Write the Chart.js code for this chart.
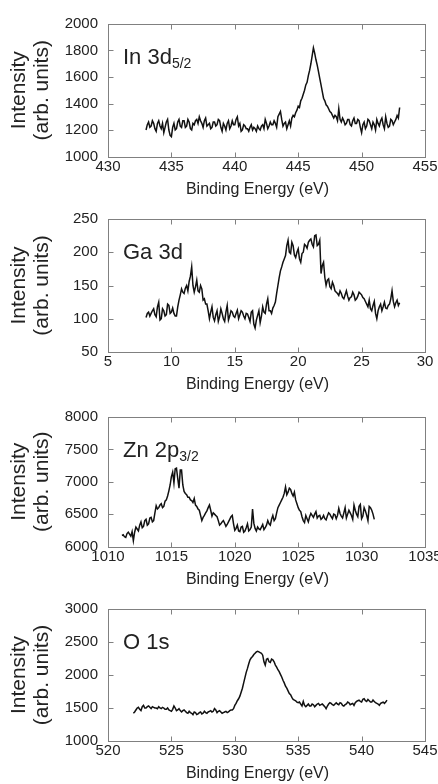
<!DOCTYPE html>
<html>
<head>
<meta charset="utf-8">
<script src="https://cdn.jsdelivr.net/npm/chart.js@4.4.0/dist/chart.umd.min.js"></script>
<style>
  html, body { margin: 0; padding: 0; background: #fff; overflow: hidden; width: 438px; height: 784px; }
  .panel { position: absolute; left: 0; width: 438px; height: 200px; }
</style>
</head>
<body>
<div class="panel" id="p0"><canvas id="c0" width="438" height="200"></canvas></div>
<div class="panel" id="p1"><canvas id="c1" width="438" height="200"></canvas></div>
<div class="panel" id="p2"><canvas id="c2" width="438" height="200"></canvas></div>
<div class="panel" id="p3"><canvas id="c3" width="438" height="200"></canvas></div>
<script>
// energy grid: first point of each scan, 0.1 eV steps
var stepEV = 0.1;
var inStart = 433.0;
var gaStart = 8.0;
var znStart = 1011.1;
var oStart = 522.0;

// In 3d5/2 intensity, one row per eV
var inCounts = [
  1200, 1240, 1260, 1220, 1230, 1270, 1250, 1210, 1190, 1250,
  1270, 1230, 1210, 1250, 1180, 1220, 1260, 1280, 1200, 1160,
  1150, 1220, 1250, 1200, 1210, 1260, 1280, 1230, 1220, 1270,
  1270, 1220, 1230, 1280, 1260, 1210, 1200, 1250, 1240, 1270,
  1280, 1250, 1300, 1270, 1250, 1220, 1270, 1290, 1230, 1240,
  1250, 1210, 1220, 1260, 1260, 1230, 1240, 1280, 1270, 1220,
  1190, 1250, 1230, 1200, 1250, 1270, 1210, 1230, 1270, 1240,
  1240, 1280, 1300, 1230, 1250, 1190, 1200, 1240, 1230, 1210,
  1210, 1190, 1220, 1240, 1200, 1220, 1210, 1190, 1230, 1210,
  1200, 1230, 1240, 1210, 1280, 1250, 1210, 1230, 1260, 1240,
  1240, 1270, 1250, 1220, 1300, 1320, 1340, 1280, 1230, 1250,
  1260, 1210, 1240, 1270, 1230, 1290, 1310, 1300, 1330, 1350,
  1380, 1370, 1420, 1440, 1470, 1500, 1540, 1560, 1610, 1650,
  1700, 1760, 1820, 1780, 1730, 1690, 1640, 1590, 1540, 1490,
  1440, 1420, 1390, 1380, 1360, 1340, 1330, 1310, 1290, 1310,
  1300, 1270, 1360, 1280, 1260, 1290, 1270, 1240, 1250, 1280,
  1280, 1240, 1230, 1270, 1290, 1250, 1250, 1280, 1270, 1220,
  1180, 1240, 1260, 1210, 1230, 1280, 1270, 1240, 1210, 1260,
  1240, 1200, 1280, 1250, 1230, 1270, 1290, 1240, 1210, 1300,
  1250, 1220, 1230, 1280, 1270, 1240, 1260, 1280, 1310, 1290,
  1370];

// Ga 3d intensity
var gaCounts = [
  102, 108, 110, 104, 108, 112, 115, 106, 103, 118,
  125, 98, 100, 115, 112, 104, 106, 122, 120, 108,
  110, 116, 108, 104, 104, 118, 128, 136, 145, 140,
  138, 146, 150, 142, 156, 164, 178, 150, 140, 148,
  158, 142, 140, 150, 145, 128, 130, 122, 122, 112,
  100, 110, 118, 102, 97, 106, 112, 96, 103, 115,
  108, 100, 96, 110, 120, 98, 104, 112, 110, 104,
  102, 108, 113, 100, 106, 112, 110, 104, 100, 108,
  107, 102, 96, 110, 112, 92, 86, 98, 105, 112,
  94, 104, 118, 110, 108, 122, 130, 112, 112, 108,
  116, 120, 125, 138, 150, 162, 172, 178, 185, 190,
  195, 210, 218, 200, 198, 215, 210, 196, 192, 200,
  205, 190, 185, 198, 200, 212, 210, 206, 215, 218,
  220, 212, 208, 225, 226, 210, 212, 218, 168, 180,
  185, 162, 150, 158, 160, 148, 145, 155, 150, 142,
  140, 138, 135, 142, 138, 132, 130, 136, 142, 134,
  128, 132, 133, 140, 136, 128, 130, 134, 140, 138,
  136, 132, 130, 126, 122, 118, 128, 115, 112, 120,
  126, 108, 100, 112, 118, 122, 112, 118, 125, 116,
  115, 120, 122, 130, 142, 126, 118, 124, 128, 120,
  124];

// Zn 2p3/2 intensity
var znCounts = [
  6170, 6180, 6150, 6140, 6200, 6220, 6190, 6160, 6230, 6090,
  6220, 6300, 6270, 6240, 6330, 6380, 6290, 6310, 6400, 6420,
  6330, 6350, 6440, 6450, 6380, 6400, 6520, 6630, 6580, 6600,
  6640, 6660, 6600, 6620, 6700, 6720, 6780, 6860, 6950, 7080,
  7150, 6980, 7200, 7210, 7050, 6900, 7180, 7180, 6950, 6850,
  6820, 6800, 6760, 6760, 6720, 6710, 6680, 6740, 6640, 6620,
  6580, 6560, 6480, 6400, 6450, 6480, 6520, 6550, 6600, 6640,
  6560, 6470, 6520, 6500, 6480, 6460, 6400, 6330, 6350, 6380,
  6400, 6360, 6310, 6340, 6380, 6420, 6460, 6480, 6350, 6250,
  6280, 6330, 6240, 6230, 6300, 6310, 6220, 6240, 6290, 6350,
  6240, 6260, 6300, 6580, 6360, 6280, 6240, 6300, 6270, 6260,
  6300, 6340, 6260, 6290, 6330, 6400, 6350, 6330, 6420, 6480,
  6400, 6430, 6520, 6600, 6640, 6680, 6720, 6760, 6820, 6920,
  6800, 6840, 6900, 6880, 6820, 6780, 6840, 6720, 6660, 6600,
  6560, 6540, 6460, 6400, 6370, 6480, 6430, 6380, 6460, 6510,
  6480, 6450, 6500, 6540, 6440, 6470, 6480, 6420, 6440, 6480,
  6430, 6410, 6470, 6520, 6500, 6460, 6430, 6500, 6490, 6430,
  6480, 6590, 6510, 6470, 6440, 6520, 6600, 6440, 6500, 6560,
  6520, 6480, 6420, 6640, 6560, 6500, 6460, 6620, 6650, 6430,
  6470, 6600, 6550, 6480, 6400, 6620, 6600, 6560, 6500, 6420];

// O 1s intensity
var oCounts = [
  1420, 1440, 1470, 1500, 1510, 1480, 1460, 1520, 1540, 1500,
  1500, 1520, 1530, 1510, 1490, 1520, 1510, 1500, 1500, 1490,
  1520, 1500, 1490, 1510, 1500, 1480, 1480, 1500, 1470, 1460,
  1450, 1480, 1530, 1500, 1460, 1470, 1490, 1460, 1440, 1460,
  1470, 1450, 1430, 1420, 1450, 1430, 1420, 1400, 1440, 1430,
  1400, 1410, 1430, 1440, 1410, 1420, 1450, 1430, 1420, 1440,
  1450, 1460, 1440, 1450, 1490, 1470, 1430, 1450, 1460, 1440,
  1420, 1430, 1440, 1450, 1430, 1440, 1460, 1470, 1470, 1490,
  1540, 1570, 1610, 1640, 1680, 1740, 1800, 1880, 1960, 2040,
  2100, 2170, 2230, 2260, 2280, 2310, 2330, 2350, 2360, 2350,
  2340, 2330, 2300, 2200, 2150, 2240, 2250, 2200, 2190, 2240,
  2230, 2200, 2150, 2120, 2080, 2050, 2010, 1970, 1920, 1880,
  1830, 1800, 1760, 1720, 1700, 1660, 1630, 1620, 1610, 1590,
  1580, 1590, 1560, 1530, 1600, 1540, 1520, 1540, 1560, 1530,
  1530, 1560, 1550, 1520, 1540, 1560, 1570, 1540, 1550, 1560,
  1540, 1520, 1490, 1530, 1560, 1580, 1570, 1550, 1540, 1560,
  1580, 1560, 1550, 1580, 1570, 1540, 1530, 1550, 1560, 1590,
  1580, 1550, 1560, 1570, 1540, 1580, 1600, 1610, 1620, 1600,
  1590, 1630, 1640, 1610, 1600, 1630, 1610, 1590, 1590, 1620,
  1600, 1580, 1570, 1560, 1540, 1570, 1580, 1590, 1570, 1590,
  1620];

var xTitle = "Binding Energy (eV)";
var yTitle = ["Intensity", "(arb. units)"];

var FONT = '"Liberation Sans", Arial, sans-serif';
var TEXT = "#222";
var PAD_TOP = 24;
var CANVAS_H = 200;

var panels = [
  { id: "c0", box: "p0", top: 23.5, bottom: 156, xmin: 430, xmax: 455, ymin: 1000, ymax: 2000, ystep: 200,
    start: inStart, vals: inCounts, main: "In 3d", sub: "5/2" },
  { id: "c1", box: "p1", top: 218.5, bottom: 351.5, xmin: 5, xmax: 30, ymin: 50, ymax: 250, ystep: 50,
    start: gaStart, vals: gaCounts, main: "Ga 3d", sub: "" },
  { id: "c2", box: "p2", top: 416.5, bottom: 546, xmin: 1010, xmax: 1035, ymin: 6000, ymax: 8000, ystep: 500,
    start: znStart, vals: znCounts, main: "Zn 2p", sub: "3/2" },
  { id: "c3", box: "p3", top: 609, bottom: 741, xmin: 520, xmax: 545, ymin: 1000, ymax: 3000, ystep: 500,
    start: oStart, vals: oCounts, main: "O 1s", sub: "" }
];

// frame with inward ticks on all sides, peak label and x title
var framePlugin = {
  id: "frame",
  afterDatasetsDraw: function(chart, args, opts) {
    var a = chart.chartArea, ctx = chart.ctx;
    var sx = chart.scales.x, sy = chart.scales.y;
    var L = Math.round(a.left) + 0.5, R = Math.round(a.right) + 0.5;
    var T = Math.round(a.top) + 0.5, B = Math.round(a.bottom) + 0.5;
    ctx.save();
    ctx.strokeStyle = "#808080";
    ctx.lineWidth = 1;
    ctx.strokeRect(L, T, R - L, B - T);
    ctx.beginPath();
    sx.ticks.forEach(function(t) {
      var px = Math.round(sx.getPixelForValue(t.value)) + 0.5;
      ctx.moveTo(px, B); ctx.lineTo(px, B - 5);
      ctx.moveTo(px, T); ctx.lineTo(px, T + 5);
    });
    sy.ticks.forEach(function(t) {
      var py = Math.round(sy.getPixelForValue(t.value)) + 0.5;
      ctx.moveTo(L, py); ctx.lineTo(L + 5, py);
      ctx.moveTo(R, py); ctx.lineTo(R - 5, py);
    });
    ctx.stroke();

    ctx.fillStyle = TEXT;
    ctx.textAlign = "left";
    ctx.textBaseline = "alphabetic";
    ctx.font = "22px " + FONT;
    ctx.fillText(opts.main, a.left + 15, a.top + 40);
    if (opts.sub) {
      var w = ctx.measureText(opts.main).width;
      ctx.font = "14px " + FONT;
      ctx.fillText(opts.sub, a.left + 15 + w, a.top + 44);
    }
    ctx.font = "16px " + FONT;
    ctx.textAlign = "center";
    ctx.fillText(xTitle, (a.left + a.right) / 2 - 9, a.bottom + 37);
    ctx.restore();
  }
};

panels.forEach(function(p) {
  var h = p.bottom - p.top;
  document.getElementById(p.box).style.top = (p.top - PAD_TOP) + "px";
  var pts = p.vals.map(function(v, i) {
    return { x: +(p.start + i * stepEV).toFixed(1), y: v };
  });
  var ctx = document.getElementById(p.id).getContext("2d");
  new Chart(ctx, {
    type: "line",
    data: {
      datasets: [{
        data: pts,
        borderColor: "#111",
        borderWidth: 1.5,
        pointRadius: 0,
        tension: 0,
        fill: false
      }]
    },
    options: {
      responsive: false,
      animation: false,
      devicePixelRatio: 1,
      layout: { padding: { top: PAD_TOP, right: 13, left: 0, bottom: 0 } },
      plugins: {
        legend: { display: false },
        tooltip: { enabled: false },
        frame: { main: p.main, sub: p.sub }
      },
      scales: {
        x: {
          type: "linear",
          min: p.xmin,
          max: p.xmax,
          grid: { display: false, drawTicks: false },
          border: { display: false },
          ticks: {
            stepSize: 5,
            padding: 1,
            maxRotation: 0,
            autoSkip: false,
            color: TEXT,
            font: { family: FONT, size: 15 },
            callback: function(v) { return String(v); }
          },
          afterFit: function(s) {
            s.height = CANVAS_H - PAD_TOP - h;
            s.paddingLeft = 0;
            s.paddingRight = 0;
          }
        },
        y: {
          type: "linear",
          min: p.ymin,
          max: p.ymax,
          grid: { display: false, drawTicks: false },
          border: { display: false },
          ticks: {
            stepSize: p.ystep,
            padding: 10,
            color: TEXT,
            font: { family: FONT, size: 15 },
            callback: function(v) { return String(v); }
          },
          title: {
            display: true,
            text: yTitle,
            color: TEXT,
            font: { family: FONT, size: 21, lineHeight: 1.1 },
            padding: { top: 8, bottom: 0 }
          },
          afterFit: function(s) {
            s.width = 108;
            s.paddingTop = 0;
            s.paddingBottom = 0;
          }
        }
      }
    },
    plugins: [framePlugin]
  });
});
</script>
</body>
</html>
